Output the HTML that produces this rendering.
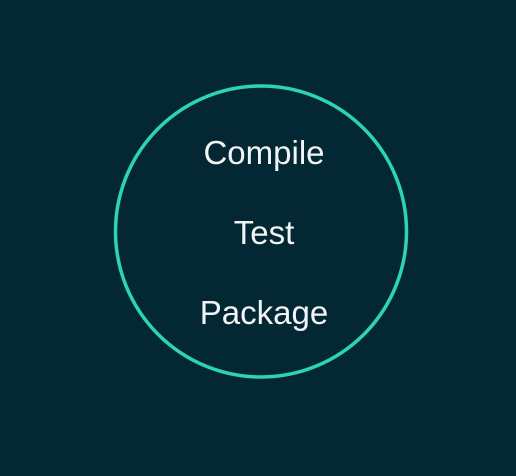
<!DOCTYPE html>
<html><head><style>
html,body{margin:0;padding:0;background:#032733;}
body{width:516px;height:476px;overflow:hidden;position:relative;}
svg{position:absolute;left:0;top:0;}
</style></head><body>
<svg width="516" height="476" viewBox="0 0 516 476">
<rect width="516" height="476" fill="#032733"/>
<circle cx="261" cy="231.5" r="145.5" fill="none" stroke="#2dd4b0" stroke-width="3.5"/>
<g font-family="Liberation Sans, sans-serif" font-size="33" fill="#f2f5f5" text-anchor="middle">
<text x="264" y="164">Compile</text>
<text x="264" y="244">Test</text>
<text x="264" y="324">Package</text>
</g>
</svg>
</body></html>
